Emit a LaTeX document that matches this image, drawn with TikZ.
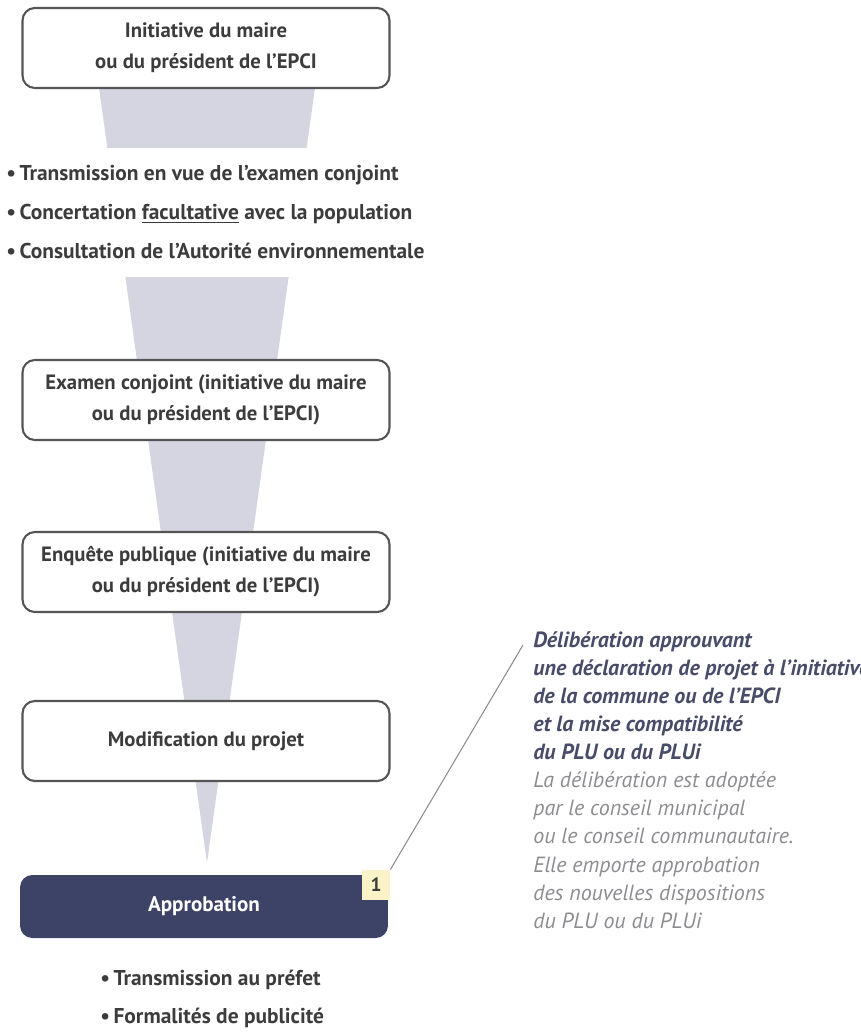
\documentclass[tikz,border=0pt]{standalone}
\usepackage{fontspec}
\setmainfont{PT Sans}
\usetikzlibrary{calc}

\begin{document}
\begin{tikzpicture}[x=0.02cm,y=-0.02cm]

% ------------------------------------------------ plu theme colors
\definecolor{plu_navy}{RGB}{60,67,102}     %#3C4366
\definecolor{plu_funnel}{RGB}{213,213,226} %#D5D5E2
\definecolor{plu_text}{RGB}{60,60,60}      %#3C3C3C
\definecolor{plu_frame}{RGB}{85,85,85}     %#555555
\definecolor{plu_tag}{RGB}{250,243,200}    %#FAF3C8
\definecolor{plu_note}{RGB}{72,76,104}     %#484C68
\definecolor{plu_light}{RGB}{140,140,145}  %#8C8C91

\tikzset{
  stepbox/.style={draw=plu_frame, line width=1.2pt, rounded corners=7pt, fill=white,
    minimum width=7.34cm, minimum height=1.6cm, align=center, text=plu_text,
    font=\bfseries\fontsize{11.8}{17.6}\selectfont},
  approbox/.style={fill=plu_navy, rounded corners=7pt, minimum width=7.36cm,
    minimum height=1.26cm, text=white, font=\bfseries\fontsize{12}{14}\selectfont},
  tagbox/.style={fill=plu_tag, minimum width=0.56cm, minimum height=0.6cm, inner sep=0pt,
    text=plu_text, font=\bfseries\fontsize{11}{13}\selectfont},
  listtext/.style={align=left, text=plu_text, inner sep=0pt},
  notetext/.style={align=left, inner sep=0pt, font=\itshape\fontsize{12.5}{16}\selectfont},
}

\useasboundingbox (0,0) rectangle (860,1033);

% funnel behind the steps
\coordinate (ftl)  at (99,88);
\coordinate (ftr)  at (315,88);
\coordinate (ftip) at (207,863);
\fill[plu_funnel] (ftl) -- (ftr) -- ($(ftr)!0.0774!(ftip)$) -- ($(ftl)!0.0774!(ftip)$) -- cycle;
\fill[plu_funnel] ($(ftl)!0.244!(ftip)$) -- ($(ftr)!0.244!(ftip)$) -- (ftip) -- cycle;

% steps
\node[stepbox] (init)  at (206,48)  {Initiative du maire\\ou du président de l’EPCI};
\node[stepbox] (exam)  at (206,400) {Examen conjoint (initiative du maire\\ou du président de l’EPCI)};
\node[stepbox] (enq)   at (206,572) {Enquête publique (initiative du maire\\ou du président de l’EPCI)};
\node[stepbox] (modif) at (206,741) {Modification du projet};
\node[approbox] (appro) at (204,906.5) {Approbation};
\node[tagbox]   (tag)   at (376,885) {1};

% bullet lists
\node[listtext, anchor=west, font=\bfseries\fontsize{12.2}{22.4}\selectfont] (consult) at (6,212)
  {\textbullet\,Transmission en vue de l’examen conjoint\\
   \textbullet\,Concertation \underline{facultative} avec la population\\
   \textbullet\,Consultation de l’Autorité environnementale};
\node[listtext, anchor=west, font=\bfseries\fontsize{12.2}{21.5}\selectfont] (publi) at (100,999)
  {\textbullet\,Transmission au préfet\\
   \textbullet\,Formalités de publicité};

% note on the approval
\node[notetext, anchor=north west] (note) at (533,631)
  {\textcolor{plu_note}{\bfseries Délibération approuvant}\\
   \textcolor{plu_note}{\bfseries une déclaration de projet à l’initiative}\\
   \textcolor{plu_note}{\bfseries de la commune ou de l’EPCI}\\
   \textcolor{plu_note}{\bfseries et la mise compatibilité}\\
   \textcolor{plu_note}{\bfseries du PLU ou du PLUi}\\
   \textcolor{plu_light}{La délibération est adoptée}\\
   \textcolor{plu_light}{par le conseil municipal}\\
   \textcolor{plu_light}{ou le conseil communautaire.}\\
   \textcolor{plu_light}{Elle emporte approbation}\\
   \textcolor{plu_light}{des nouvelles dispositions}\\
   \textcolor{plu_light}{du PLU ou du PLUi}};
\draw[plu_light, line width=0.6pt] (tag.north east) -- ([shift={(-10,14)}]note.north west);

\end{tikzpicture}
\end{document}
